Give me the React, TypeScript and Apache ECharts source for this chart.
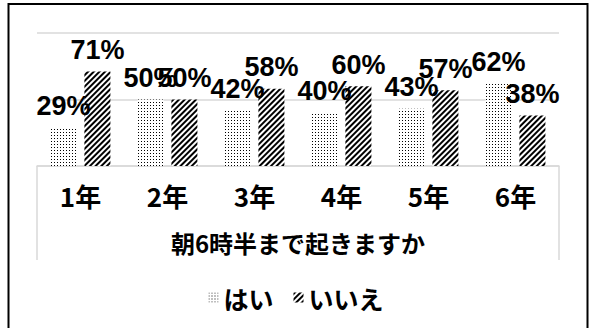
import React, { useEffect, useRef } from 'react';
import * as echarts from 'echarts';

// Survey: do you get up by 6:30? (share of answers per grade, %)
const grades = ['1年', '2年', '3年', '4年', '5年', '6年'];
const yesValues = [29, 50, 42, 40, 43, 62];
const noValues = [71, 50, 58, 60, 57, 38];
const seriesNames = ['はい', 'いいえ'];
const axisTitle = '朝6時半まで起きますか';
const valueTicks = [0, 50, 100];

const JP = '"Noto Sans CJK JP", "Noto Sans", sans-serif';
const NUM = '"Liberation Sans", Arial, sans-serif';

// Black-and-white fills: a dot grid and diagonal hatching
const dotDecal = {
  symbol: 'rect',
  symbolSize: 1,
  color: '#000',
  dashArrayX: [1, 2],
  dashArrayY: [1, 2],
};
const stripeDecal = {
  symbol: 'rect',
  symbolSize: 1,
  color: '#000',
  dashArrayX: [1, 0],
  dashArrayY: [2, 1.5],
  rotation: -Math.PI / 4,
};

const labelStyle = {
  show: true,
  position: 'top',
  distance: 8,
  formatter: '{c}%',
  fontSize: 27,
  fontWeight: 'bold',
  color: '#000',
  fontFamily: NUM,
};

export default function App() {
  const ref = useRef<HTMLDivElement>(null);

  useEffect(() => {
    document.body.style.margin = '0';
    const chart = echarts.init(ref.current!, null, { renderer: 'svg' });
    chart.setOption({
      animation: false,
      backgroundColor: '#fff',
      textStyle: { fontFamily: JP },
      grid: { left: 37, right: 33, top: 33, bottom: 162, containLabel: false },
      legend: {
        data: seriesNames,
        top: 280,
        left: 'center',
        icon: 'rect',
        itemWidth: 10,
        itemHeight: 10,
        itemGap: 20,
        textStyle: { fontSize: 25, fontWeight: 'bold', color: '#000', fontFamily: JP },
      },
      xAxis: {
        type: 'category',
        data: grades,
        axisLine: { lineStyle: { color: '#d9d9d9', width: 1.5 } },
        axisTick: {
          show: true,
          interval: (i: number) => i === 0,
          length: 94,
          lineStyle: { color: '#d9d9d9', width: 1.5 },
        },
        axisLabel: {
          interval: 0,
          margin: 16,
          fontSize: 26,
          fontWeight: 'bold',
          color: '#000',
          fontFamily: JP,
        },
        name: axisTitle,
        nameLocation: 'middle',
        nameGap: 64,
        nameTextStyle: { fontSize: 24, fontWeight: 'bold', color: '#000', fontFamily: JP },
      },
      yAxis: {
        type: 'value',
        min: valueTicks[0],
        max: valueTicks[valueTicks.length - 1],
        interval: valueTicks[1] - valueTicks[0],
        axisLabel: { show: false },
        axisLine: { show: false },
        axisTick: { show: false },
        splitLine: { lineStyle: { color: '#d9d9d9', width: 1.5 } },
      },
      series: [
        {
          name: seriesNames[0],
          type: 'bar',
          data: yesValues,
          barWidth: 26,
          barGap: '30%',
          itemStyle: { color: '#fff', decal: dotDecal },
          label: labelStyle,
        },
        {
          name: seriesNames[1],
          type: 'bar',
          data: noValues,
          barWidth: 26,
          barGap: '30%',
          itemStyle: { color: '#fff', decal: stripeDecal },
          label: labelStyle,
        },
      ],
      graphic: [
        {
          type: 'rect',
          silent: true,
          z: 100,
          shape: { x: 8.5, y: 4, width: 579, height: 340 },
          style: { fill: 'none', stroke: '#000', lineWidth: 2 },
        },
      ],
    });
    return () => chart.dispose();
  }, []);

  return <div ref={ref} style={{ width: 592, height: 328 }} />;
}
